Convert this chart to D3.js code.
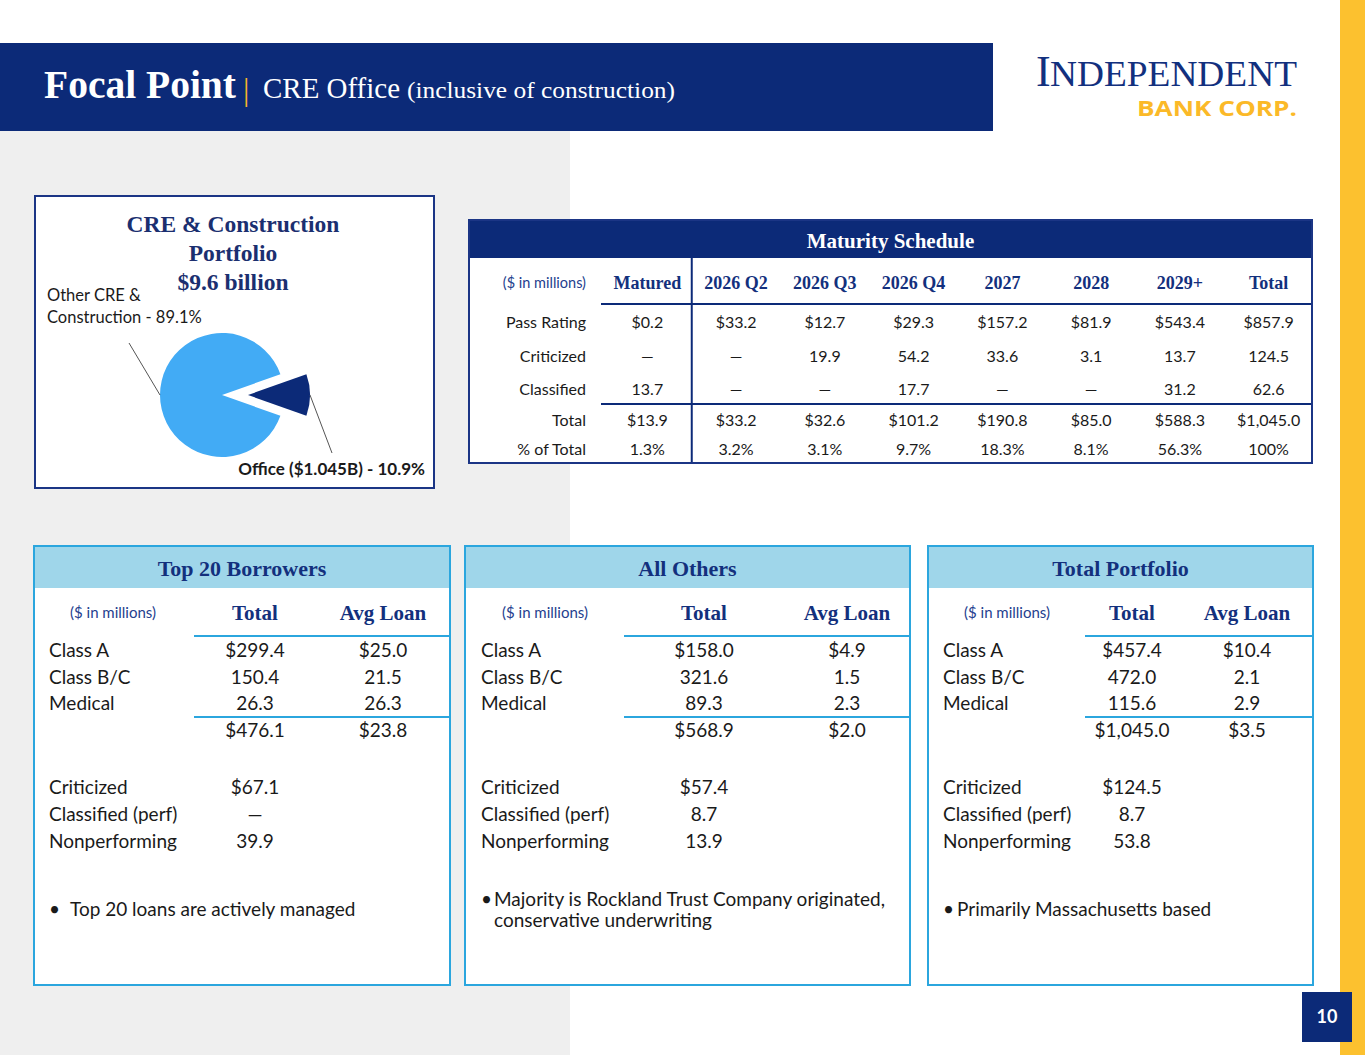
<!DOCTYPE html>
<html><head><meta charset="utf-8">
<script src="https://cdn.jsdelivr.net/npm/d3@7/dist/d3.min.js"></script>
<style>body{margin:0;background:#fff;}svg{display:block;}</style>
</head><body>
<script>
// ---------- DATA ----------
const pieCategories = ["Other CRE & Construction", "Office ($1.045B)"];
const pieShares = [89.1, 10.9];
const portfolioTitle = ["CRE & Construction", "Portfolio", "$9.6 billion"];

const matColumns = ["Matured", "2026 Q2", "2026 Q3", "2026 Q4", "2027", "2028", "2029+", "Total"];
const matRowLabels = ["Pass Rating", "Criticized", "Classified", "Total", "% of Total"];
const matPass = [0.2, 33.2, 12.7, 29.3, 157.2, 81.9, 543.4, 857.9];
const matCriticized = [null, null, 19.9, 54.2, 33.6, 3.1, 13.7, 124.5];
const matClassified = [13.7, null, null, 17.7, null, null, 31.2, 62.6];
const matTotal = [13.9, 33.2, 32.6, 101.2, 190.8, 85.0, 588.3, 1045.0];
const matPct = [1.3, 3.2, 3.1, 9.7, 18.3, 8.1, 56.3, 100];

const panelTitles = ["Top 20 Borrowers", "All Others", "Total Portfolio"];
const classLabels = ["Class A", "Class B/C", "Medical"];
const qualityLabels = ["Criticized", "Classified (perf)", "Nonperforming"];

const top20Total = [299.4, 150.4, 26.3];
const top20Avg = [25.0, 21.5, 26.3];
const top20Sum = [476.1, 23.8];
const top20Quality = [67.1, null, 39.9];
const top20Bullet = ["Top 20 loans are actively managed"];

const othersTotal = [158.0, 321.6, 89.3];
const othersAvg = [4.9, 1.5, 2.3];
const othersSum = [568.9, 2.0];
const othersQuality = [57.4, 8.7, 13.9];
const othersBullet = ["Majority is Rockland Trust Company originated,", "conservative underwriting"];

const portTotal = [457.4, 472.0, 115.6];
const portAvg = [10.4, 2.1, 2.9];
const portSum = [1045.0, 3.5];
const portQuality = [124.5, 8.7, 53.8];
const portBullet = ["Primarily Massachusetts based"];

const pageNumber = "10";

// ---------- STYLE ----------
const W = 1365, H = 1055;
const SERIF = "'Liberation Serif','Times New Roman',serif";
const SANS = "Lato,'Open Sans',sans-serif";
const NAVY = "#0c2a78", NAVYTXT = "#13307d", UNIT = "#24408e";
const GOLD = "#f7b52c", STRIP = "#fcc12f";
const LBORDER = "#2ba6de", LBAND = "#9fd6ea";
const PIEBLUE = "#42abf5", TXT = "#1a1a1a";

const fmt1 = d3.format(",.1f");
const money = v => v == null ? "—" : "$" + fmt1(v);
const plain = v => v == null ? "—" : fmt1(v);
const pct = v => v == null ? "—" : (v === 100 ? "100%" : fmt1(v) + "%");

const svg = d3.select("body").append("svg").attr("width", W).attr("height", H);

// backgrounds
svg.append("rect").attr("x", 0).attr("y", 0).attr("width", W).attr("height", H).attr("fill", "#fff");
svg.append("rect").attr("x", 0).attr("y", 131).attr("width", 570).attr("height", H - 131).attr("fill", "#efefef");
svg.append("rect").attr("x", 1340).attr("y", 0).attr("width", 25).attr("height", H).attr("fill", STRIP);

// header bar
svg.append("rect").attr("x", 0).attr("y", 43).attr("width", 993).attr("height", 88).attr("fill", NAVY);
svg.append("text").attr("x", 44).attr("y", 98).attr("font-family", SERIF).attr("font-weight", "bold")
  .attr("font-size", 39).attr("fill", "#fff").attr("textLength", 192).attr("lengthAdjust", "spacingAndGlyphs").text("Focal Point");
svg.append("text").attr("x", 243).attr("y", 100).attr("font-family", SERIF)
  .attr("font-size", 32).attr("fill", GOLD).text("|");
svg.append("text").attr("x", 263).attr("y", 98).attr("font-family", SERIF)
  .attr("font-size", 30).attr("fill", "#fff").attr("textLength", 137).attr("lengthAdjust", "spacingAndGlyphs").text("CRE Office");
svg.append("text").attr("x", 407).attr("y", 98).attr("font-family", SERIF)
  .attr("font-size", 24).attr("fill", "#fff").attr("textLength", 268).attr("lengthAdjust", "spacingAndGlyphs").text("(inclusive of construction)");

// logo
svg.append("text").attr("x", 1036).attr("y", 86).attr("font-family", SERIF).attr("font-size", 44).attr("fill", "#12307e").text("I");
svg.append("text").attr("x", 1050).attr("y", 86).attr("font-family", SERIF).attr("font-size", 35).attr("fill", "#12307e")
  .attr("textLength", 247).attr("lengthAdjust", "spacingAndGlyphs").text("NDEPENDENT");
svg.append("text").attr("x", 1137).attr("y", 116).attr("font-family", "'Open Sans',sans-serif").attr("font-weight", "bold")
  .attr("font-size", 22).attr("fill", "#fbb928").attr("textLength", 160).attr("lengthAdjust", "spacingAndGlyphs").text("BANK CORP.");

// ---------- PIE BOX ----------
svg.append("rect").attr("x", 35).attr("y", 196).attr("width", 399).attr("height", 292)
  .attr("fill", "#fff").attr("stroke", "#1b3585").attr("stroke-width", 2);
svg.append("g").selectAll("text").data(portfolioTitle).join("text")
  .attr("x", 233).attr("y", (d, i) => 232 + i * 29).attr("text-anchor", "middle")
  .attr("font-family", SERIF).attr("font-weight", "bold").attr("font-size", 23.5).attr("fill", "#1b2f70").text(d => d);

const cx = 222, cy = 395, R = 62, explode = 26;
const totalShare = d3.sum(pieShares);
const officeFrac = pieShares[1] / totalShare;
const a0 = Math.PI / 2 + Math.PI * officeFrac;
const pieGen = d3.pie().sort(null).value(d => d).startAngle(a0).endAngle(a0 + 2 * Math.PI);
const arcs = pieGen(pieShares);
const arcGen = d3.arc().innerRadius(0).outerRadius(R);
const edgeArc = d3.arc().innerRadius(R).outerRadius(R);
const pieColors = [PIEBLUE, NAVY];
const offsetOf = (d, i) => {
  if (i !== 1) return [0, 0];
  const m = (d.startAngle + d.endAngle) / 2;
  return [explode * Math.sin(m), -explode * Math.cos(m)];
};
const pg = svg.append("g").attr("transform", `translate(${cx},${cy})`);
pg.selectAll("path").data(arcs).join("path")
  .attr("d", arcGen).attr("fill", (d, i) => pieColors[i])
  .attr("transform", (d, i) => { const o = offsetOf(d, i); return `translate(${o[0]},${o[1]})`; });

// leader lines
const labelAnchors = [[129, 343], [332, 453]];
pg.selectAll("line.leader").data(arcs).join("line").attr("class", "leader")
  .attr("x1", (d, i) => edgeArc.centroid(d)[0] + offsetOf(d, i)[0])
  .attr("y1", (d, i) => edgeArc.centroid(d)[1] + offsetOf(d, i)[1])
  .attr("x2", (d, i) => labelAnchors[i][0] - cx)
  .attr("y2", (d, i) => labelAnchors[i][1] - cy)
  .attr("stroke", "#555").attr("stroke-width", 1);

const otherLabel = `${pieCategories[0]} - ${pieShares[0]}%`;
const otherLines = [otherLabel.slice(0, otherLabel.indexOf("&") + 1), otherLabel.slice(otherLabel.indexOf("&") + 2)];
svg.append("g").selectAll("text").data(otherLines).join("text")
  .attr("x", 47).attr("y", (d, i) => 301 + i * 22)
  .attr("font-family", SANS).attr("font-size", 16.5).attr("fill", TXT).text(d => d);
svg.append("text").attr("x", 425).attr("y", 475).attr("text-anchor", "end")
  .attr("font-family", SANS).attr("font-weight", "bold").attr("font-size", 17).attr("fill", TXT)
  .text(`${pieCategories[1]} - ${pieShares[1]}%`);

// ---------- MATURITY TABLE ----------
const tX0 = 469, tY0 = 220, tX1 = 1312, tY1 = 463;
const mg = svg.append("g");
mg.append("rect").attr("x", tX0).attr("y", tY0).attr("width", tX1 - tX0).attr("height", tY1 - tY0).attr("fill", "#fff");
mg.append("rect").attr("x", tX0).attr("y", tY0).attr("width", tX1 - tX0).attr("height", 38).attr("fill", NAVY);
mg.append("text").attr("x", (tX0 + tX1) / 2).attr("y", 248).attr("text-anchor", "middle")
  .attr("font-family", SERIF).attr("font-weight", "bold").attr("font-size", 21).attr("fill", "#fff").text("Maturity Schedule");

const colX = d3.scaleBand().domain(matColumns).range([603, 1313]);
const colC = c => colX(c) + colX.bandwidth() / 2;
const rowY = d3.scaleOrdinal().domain(matRowLabels).range([328, 361.5, 395, 425.5, 455]);

mg.append("text").attr("x", 586).attr("y", 288).attr("text-anchor", "end")
  .attr("font-family", SANS).attr("font-size", 14.5).attr("fill", UNIT).text("($ in millions)");
mg.selectAll("text.colh").data(matColumns).join("text").attr("class", "colh")
  .attr("x", d => colC(d)).attr("y", 289).attr("text-anchor", "middle")
  .attr("font-family", SERIF).attr("font-weight", "bold").attr("font-size", 18).attr("fill", NAVYTXT).text(d => d);

const matRows = [
  { label: matRowLabels[0], vals: matPass, f: money },
  { label: matRowLabels[1], vals: matCriticized, f: plain },
  { label: matRowLabels[2], vals: matClassified, f: plain },
  { label: matRowLabels[3], vals: matTotal, f: money },
  { label: matRowLabels[4], vals: matPct, f: pct }
];
matRows.forEach(r => {
  mg.append("text").attr("x", 586).attr("y", rowY(r.label)).attr("text-anchor", "end")
    .attr("font-family", SANS).attr("font-size", 16).attr("fill", TXT).text(r.label);
  mg.selectAll(null).data(r.vals).join("text")
    .attr("x", (d, i) => colC(matColumns[i])).attr("y", rowY(r.label)).attr("text-anchor", "middle")
    .attr("font-family", SANS).attr("font-size", 16).attr("fill", TXT).text(d => r.f(d));
});
// lines
mg.append("line").attr("x1", colX(matColumns[1])).attr("x2", colX(matColumns[1])).attr("y1", tY0 + 38).attr("y2", tY1)
  .attr("stroke", NAVY).attr("stroke-width", 2);
mg.append("line").attr("x1", 601).attr("x2", tX1).attr("y1", 304).attr("y2", 304).attr("stroke", NAVY).attr("stroke-width", 2);
mg.append("line").attr("x1", 601).attr("x2", tX1).attr("y1", 404).attr("y2", 404).attr("stroke", NAVY).attr("stroke-width", 2);
mg.append("rect").attr("x", tX0).attr("y", tY0).attr("width", tX1 - tX0).attr("height", tY1 - tY0)
  .attr("fill", "none").attr("stroke", "#1b3585").attr("stroke-width", 2);

// ---------- BOTTOM PANELS ----------
const panels = [
  { title: panelTitles[0], x0: 34, x1: 450, unitX: 113, totX: 255, avgX: 383, lineX: 194, labelX: 49, bulX: 49, bulTX: 70,
    tot: top20Total, avg: top20Avg, sum: top20Sum, q: top20Quality, bullets: top20Bullet },
  { title: panelTitles[1], x0: 465, x1: 910, unitX: 545, totX: 704, avgX: 847, lineX: 624, labelX: 481, bulX: 481, bulTX: 494,
    tot: othersTotal, avg: othersAvg, sum: othersSum, q: othersQuality, bullets: othersBullet },
  { title: panelTitles[2], x0: 928, x1: 1313, unitX: 1007, totX: 1132, avgX: 1247, lineX: 1085, labelX: 943, bulX: 943, bulTX: 957,
    tot: portTotal, avg: portAvg, sum: portSum, q: portQuality, bullets: portBullet }
];
const pY0 = 546, pY1 = 985;
const classY = d3.scalePoint().domain([...classLabels, "sum"]).range([657, 737]);
const qualY = d3.scalePoint().domain(qualityLabels).range([794, 848]);

panels.forEach(p => {
  const g = svg.append("g");
  g.append("rect").attr("x", p.x0).attr("y", pY0).attr("width", p.x1 - p.x0).attr("height", pY1 - pY0).attr("fill", "#fff");
  g.append("rect").attr("x", p.x0).attr("y", pY0).attr("width", p.x1 - p.x0).attr("height", 42).attr("fill", LBAND);
  g.append("text").attr("x", (p.x0 + p.x1) / 2).attr("y", 576).attr("text-anchor", "middle")
    .attr("font-family", SERIF).attr("font-weight", "bold").attr("font-size", 22).attr("fill", NAVYTXT).text(p.title);
  const colS = d3.scaleOrdinal().domain(["Total", "Avg Loan"]).range([p.totX, p.avgX]);
  g.append("text").attr("x", p.unitX).attr("y", 618).attr("text-anchor", "middle")
    .attr("font-family", SANS).attr("font-size", 15).attr("fill", UNIT).text("($ in millions)");
  g.selectAll("text.ch").data(colS.domain()).join("text").attr("class", "ch")
    .attr("x", d => colS(d)).attr("y", 620).attr("text-anchor", "middle")
    .attr("font-family", SERIF).attr("font-weight", "bold").attr("font-size", 21).attr("fill", NAVYTXT).text(d => d);
  g.append("line").attr("x1", p.lineX).attr("x2", p.x1).attr("y1", 636).attr("y2", 636).attr("stroke", LBORDER).attr("stroke-width", 2);
  g.append("line").attr("x1", p.lineX).attr("x2", p.x1).attr("y1", 717).attr("y2", 717).attr("stroke", LBORDER).attr("stroke-width", 2);

  const txt = (x, y, s, anchor) => g.append("text").attr("x", x).attr("y", y).attr("text-anchor", anchor || "start")
    .attr("font-family", SANS).attr("font-size", 19).attr("fill", TXT).text(s);
  classLabels.forEach((c, i) => {
    txt(p.labelX, classY(c), c);
    txt(colS("Total"), classY(c), i === 0 ? money(p.tot[i]) : plain(p.tot[i]), "middle");
    txt(colS("Avg Loan"), classY(c), i === 0 ? money(p.avg[i]) : plain(p.avg[i]), "middle");
  });
  txt(colS("Total"), classY("sum"), money(p.sum[0]), "middle");
  txt(colS("Avg Loan"), classY("sum"), money(p.sum[1]), "middle");
  qualityLabels.forEach((c, i) => {
    txt(p.labelX, qualY(c), c);
    txt(colS("Total"), qualY(c), i === 0 ? money(p.q[i]) : plain(p.q[i]), "middle");
  });
  const by = p.bullets.length > 1 ? 906 : 916;
  txt(p.bulX, by, "•");
  p.bullets.forEach((b, i) => txt(p.bulTX, by + i * 21, b));

  g.append("rect").attr("x", p.x0).attr("y", pY0).attr("width", p.x1 - p.x0).attr("height", pY1 - pY0)
    .attr("fill", "none").attr("stroke", LBORDER).attr("stroke-width", 2);
});

// page number
svg.append("rect").attr("x", 1302).attr("y", 992).attr("width", 50).attr("height", 50).attr("fill", NAVY);
svg.append("text").attr("x", 1327).attr("y", 1023).attr("text-anchor", "middle")
  .attr("font-family", SANS).attr("font-weight", "bold").attr("font-size", 18).attr("fill", "#fff").text(pageNumber);
</script>
</body></html>
